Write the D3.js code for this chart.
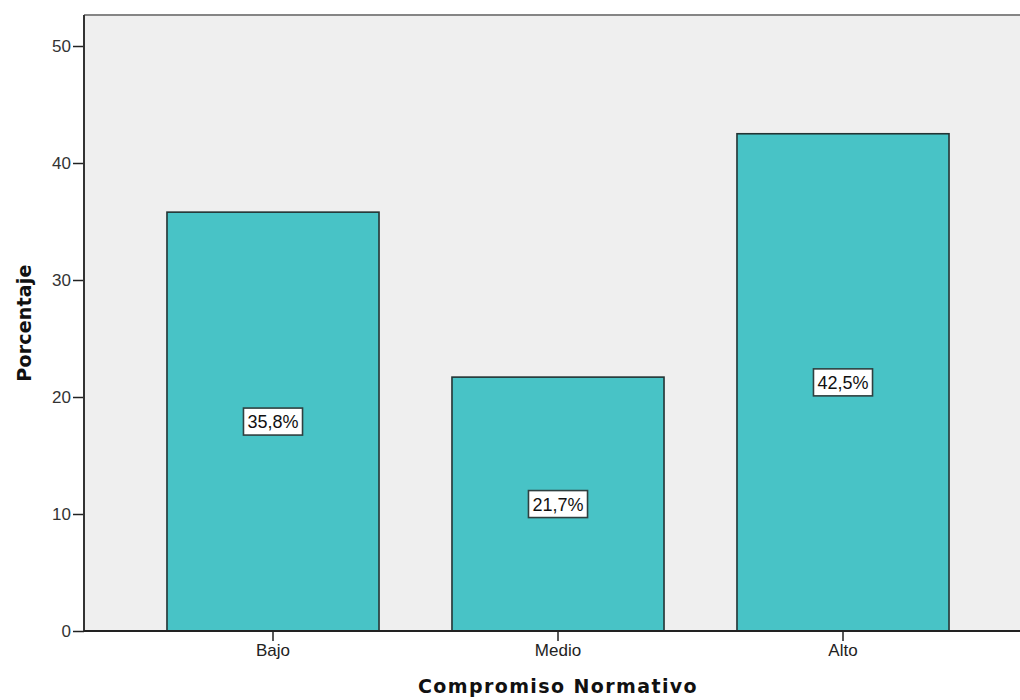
<!DOCTYPE html>
<html><head><meta charset="utf-8">
<script src="https://cdn.jsdelivr.net/npm/d3@7"></script>
<style>body{margin:0;background:#fff}svg{display:block}</style>
</head><body>
<svg id="c" width="1020" height="700"></svg>
<script>
const categories = ["Bajo", "Medio", "Alto"];
const values = [35.8, 21.7, 42.5];
const valueLabels = ["35,8%", "21,7%", "42,5%"];
const yTicks = [0, 10, 20, 30, 40, 50];
const xTitle = "Compromiso Normativo";
const yTitle = "Porcentaje";

const svg = d3.select("#c");
const L = 84, R = 1020, T = 15, B = 631;
const y = d3.scaleLinear().domain([0, 52.65]).range([B, T]);
const x = d3.scaleBand().domain(categories).range([130.5, 985.5]).paddingInner(0.256).paddingOuter(0.128);

svg.append("rect").attr("x", L).attr("y", T).attr("width", R - L).attr("height", B - T).attr("fill", "#efefef");
svg.append("line").attr("x1", L).attr("x2", R).attr("y1", T).attr("y2", T).attr("stroke", "#858585").attr("stroke-width", 2);

svg.selectAll("rect.bar").data(values).join("rect").attr("class", "bar")
  .attr("x", (d, i) => x(categories[i]))
  .attr("y", d => y(d))
  .attr("width", x.bandwidth())
  .attr("height", d => B - y(d))
  .attr("fill", "#48c3c6").attr("stroke", "#233333").attr("stroke-width", 1.6);

// y axis
const yAxis = svg.append("g").attr("transform", `translate(${L},0)`)
  .call(d3.axisLeft(y).tickValues(yTicks).tickSize(11).tickPadding(2).tickFormat(d3.format("d")));
yAxis.select(".domain").remove();
yAxis.selectAll(".tick line").attr("stroke", "#222").attr("stroke-width", 1.5);
yAxis.selectAll("text").attr("font-family", "Liberation Sans, Arial, sans-serif").attr("font-size", 17).attr("fill", "#333");
svg.append("line").attr("x1", L).attr("x2", L).attr("y1", T).attr("y2", B).attr("stroke", "#333").attr("stroke-width", 2);

// x axis
const xAxis = svg.append("g").attr("transform", `translate(0,${B})`)
  .call(d3.axisBottom(x).tickSize(10).tickPadding(3));
xAxis.select(".domain").remove();
xAxis.selectAll(".tick line").attr("stroke", "#222").attr("stroke-width", 1.5);
xAxis.selectAll("text").attr("font-family", "Liberation Sans, Arial, sans-serif").attr("font-size", 17).attr("fill", "#222");
svg.append("line").attr("x1", L).attr("x2", R).attr("y1", B).attr("y2", B).attr("stroke", "#222").attr("stroke-width", 2);

// value labels
const lab = svg.selectAll("g.lab").data(values).join("g").attr("class", "lab")
  .attr("transform", (d, i) => `translate(${x(categories[i]) + x.bandwidth() / 2},${y(d / 2)})`);
lab.append("text").text((d, i) => valueLabels[i])
  .attr("text-anchor", "middle").attr("dy", "0.36em")
  .attr("font-family", "Liberation Sans, Arial, sans-serif").attr("font-size", 18).attr("fill", "#111");
lab.each(function () {
  const g = d3.select(this);
  const bb = g.select("text").node().getBBox();
  g.insert("rect", "text").attr("x", bb.x - 4).attr("y", -13.5).attr("width", bb.width + 8).attr("height", 27)
    .attr("fill", "#fff").attr("stroke", "#2f4040").attr("stroke-width", 1.6);
});

svg.append("text").text(xTitle).attr("x", (L + R) / 2 + 6).attr("y", 693).attr("text-anchor", "middle")
  .attr("letter-spacing", 1.4)
  .attr("font-family", "DejaVu Sans, sans-serif").attr("font-weight", "bold").attr("font-size", 19).attr("fill", "#111");
svg.append("text").text(yTitle).attr("transform", `translate(31,${(T + B) / 2})rotate(-90)`).attr("text-anchor", "middle")
  .attr("letter-spacing", 0.2)
  .attr("font-family", "DejaVu Sans, sans-serif").attr("font-weight", "bold").attr("font-size", 19).attr("fill", "#111");
</script>
</body></html>
